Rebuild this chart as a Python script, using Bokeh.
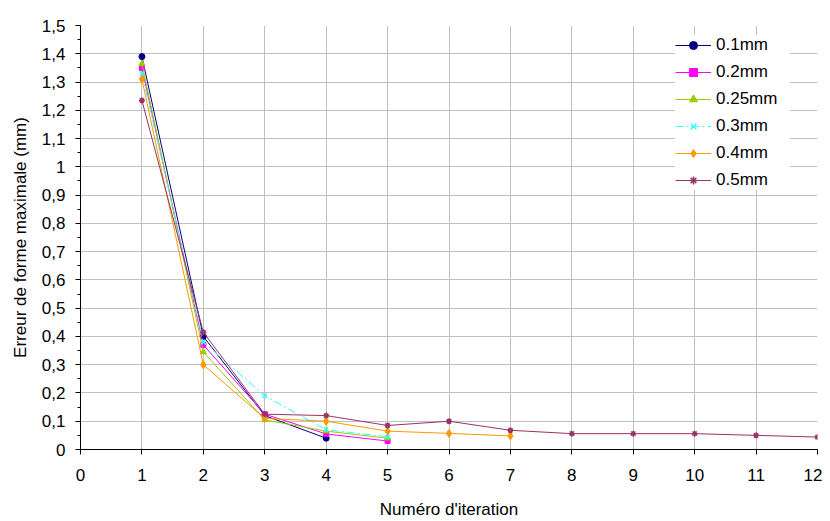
from bokeh.plotting import figure
from bokeh.models import Range1d, FixedTicker, CustomJSTickFormatter, Legend
from bokeh.embed import file_html
from bokeh.resources import INLINE

labels = ["0.1mm", "0.2mm", "0.25mm", "0.3mm", "0.4mm", "0.5mm"]
x_01 = [1, 2, 3, 4]
y_01 = [1.39, 0.40, 0.12, 0.04]
x_02 = [1, 2, 3, 4, 5]
y_02 = [1.35, 0.37, 0.125, 0.055, 0.03]
x_025 = [1, 2, 3, 4, 5]
y_025 = [1.365, 0.345, 0.105, 0.065, 0.04]
x_03 = [1, 2, 3, 4, 5]
y_03 = [1.33, 0.38, 0.19, 0.07, 0.045]
x_04 = [1, 2, 3, 4, 5, 6, 7]
y_04 = [1.31, 0.30, 0.11, 0.10, 0.065, 0.057, 0.048]
x_05 = [1, 2, 3, 4, 5, 6, 7, 8, 9, 10, 11, 12]
y_05 = [1.235, 0.415, 0.125, 0.12, 0.085, 0.10, 0.068, 0.056, 0.056, 0.056, 0.05, 0.044]

xs = [x_01, x_02, x_025, x_03, x_04, x_05]
ys = [y_01, y_02, y_025, y_03, y_04, y_05]
colors = ["#000080", "#FF00FF", "#99CC00", "#33FFFF", "#FF9900", "#993366"]
markers = ["circle", "square", "triangle", "x", "diamond", "asterisk"]
dashes = ["solid", "solid", "solid", "8 3 2 3", "solid", "solid"]
msizes = [6, 5, 6, 6, 8, 6]

FONT = "Liberation Sans"

p = figure(width=822, height=521, output_backend="svg", toolbar_location=None,
           x_range=Range1d(0, 12), y_range=Range1d(0, 1.5),
           min_border_left=80, min_border_right=5, min_border_top=25, min_border_bottom=71)
p.outline_line_color = None
p.background_fill_color = "white"

items = []
for lab, x, y, c, m, d, s in zip(labels, xs, ys, colors, markers, dashes, msizes):
    r1 = p.line(x, y, line_color=c, line_width=1, line_dash=d)
    r2 = p.scatter(x, y, marker=m, size=s, fill_color=c, line_color=c,
                   line_width=1.5 if m in ("x", "asterisk") else 1)
    items.append((lab, [r1, r2]))

legend = Legend(items=items, location=(595, 259))
legend.label_text_font = FONT
legend.label_text_font_size = "17px"
legend.label_text_color = "black"
legend.glyph_width = 36
legend.glyph_height = 20
legend.label_height = 20
legend.label_width = 74
legend.spacing = 7
legend.label_standoff = 5
legend.padding = 6
legend.margin = 0
legend.border_line_color = None
legend.background_fill_color = "white"
legend.background_fill_alpha = 1.0
p.add_layout(legend)

yt = [round(i * 0.1, 2) for i in range(16)]
ymt = [round(i * 0.05, 3) for i in range(31)]
p.yaxis.ticker = FixedTicker(ticks=yt, minor_ticks=ymt)
p.xaxis.ticker = FixedTicker(ticks=list(range(13)), minor_ticks=[])
p.yaxis.formatter = CustomJSTickFormatter(code="""
var s = (Math.round(tick*10)/10).toString();
return s.replace('.', ',');
""")

for ax in (p.xaxis, p.yaxis):
    ax.axis_line_color = "black"
    ax.axis_line_width = 1
    ax.major_tick_line_color = "black"
    ax.minor_tick_line_color = "black"
    ax.major_tick_out = 5
    ax.major_tick_in = 0
    ax.minor_tick_out = 3
    ax.minor_tick_in = 0
    ax.major_label_text_font = FONT
    ax.major_label_text_font_size = "17px"
    ax.major_label_text_color = "black"
    ax.axis_label_text_font = FONT
    ax.axis_label_text_font_size = "17px"
    ax.axis_label_text_font_style = "normal"
    ax.axis_label_text_color = "black"

p.xaxis.axis_label = "Numéro d'iteration"
p.yaxis.axis_label = "Erreur de forme maximale (mm)"
p.xaxis.major_label_standoff = 14
p.xaxis.axis_label_standoff = 16
p.yaxis.major_label_standoff = 10
p.yaxis.axis_label_standoff = 9

p.xgrid.grid_line_color = "#C0C0C0"
p.ygrid.grid_line_color = "#C0C0C0"
p.xgrid.grid_line_width = 1
p.ygrid.grid_line_width = 1

open("out.html", "w").write(file_html(p, INLINE))
